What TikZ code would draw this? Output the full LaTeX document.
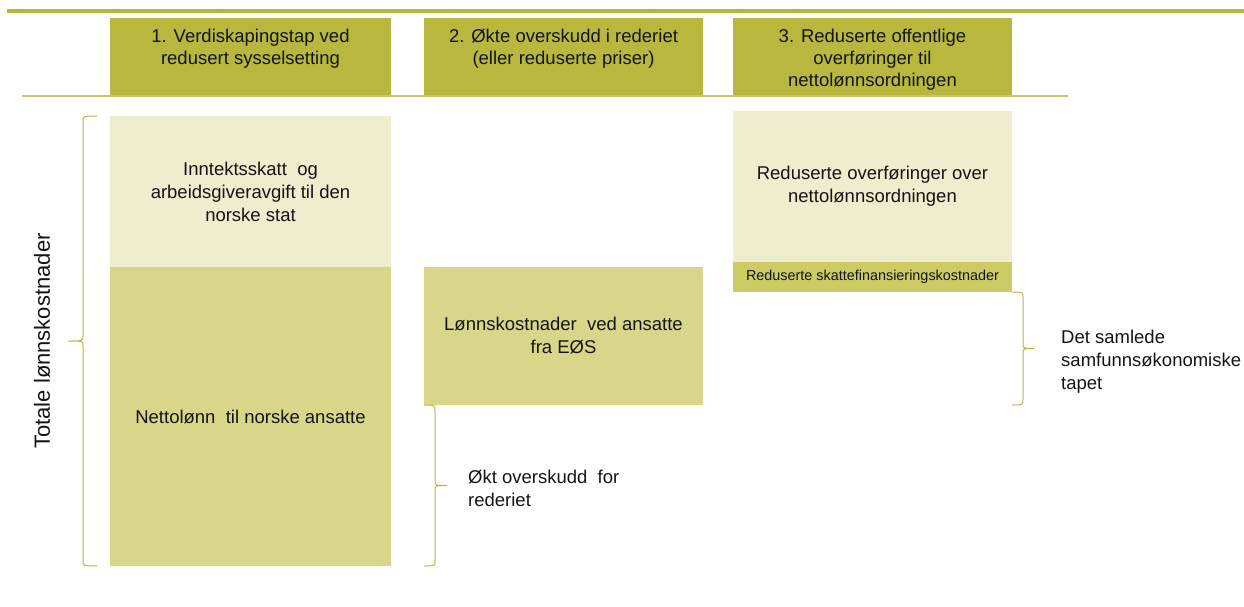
\documentclass[tikz,border=0pt]{standalone}
\usepackage{fontspec}
\setmainfont{Liberation Sans}
\definecolor{olivehead}{RGB}{185,183,62}
\definecolor{olivedark}{RGB}{216,214,137}
\definecolor{olivelight}{RGB}{238,237,205}
\definecolor{olivestrip}{RGB}{205,203,100}
\definecolor{oliveline}{RGB}{200,198,110}
\definecolor{txt}{RGB}{20,20,20}
\begin{document}
\begin{tikzpicture}[x=1pt,y=-1pt,
  box/.style={draw=none,inner sep=0pt,outer sep=0pt,rectangle},
  headbox/.style={box,fill=olivehead,minimum height=77pt},
  headtext/.style={inner sep=0pt,anchor=north,align=center,text=txt,font=\fontsize{18.5}{22.3}\selectfont},
  bodytext/.style={inner sep=0pt,align=center,text=txt,font=\fontsize{18.5}{23}\selectfont},
  sidetext/.style={inner sep=0pt,anchor=west,align=left,text=txt,font=\fontsize{18.5}{23}\selectfont},
  bracestyle/.style={draw=olivehead,line width=1pt}]
\useasboundingbox (0,0) rectangle (1244,607);
% top bar
\fill[olivehead] (7,9) rectangle (1244,13.2);
% header boxes
\node[headbox,minimum width=281pt] (h1) at (250.5,56.5) {};
\node[headbox,minimum width=279pt] (h2) at (563.5,56.5) {};
\node[headbox,minimum width=279pt] (h3) at (872.5,56.5) {};
\node[headtext] (h1t) at (250.5,28.5) {1. Verdiskapingstap ved\\redusert sysselsetting};
\node[headtext] (h2t) at (563.5,28.5) {2. Økte overskudd i rederiet\\(eller reduserte priser)};
\node[headtext] (h3t) at (872.5,28.5) {3. Reduserte offentlige\\overføringer til\\nettolønnsordningen};
% separator line
\coordinate (sepL) at (22,96.5);
\coordinate (sepR) at (1068,96.5);
\draw[oliveline,line width=2pt] (sepL) -- (sepR);
% column 1
\node[box,fill=olivelight,minimum width=281pt,minimum height=151pt] (b1top) at (250.5,191.5) {};
\node[box,fill=olivedark,minimum width=281pt,minimum height=299pt] (b1bot) at (250.5,416.5) {};
\node[bodytext] (b1topt) at (b1top.center) {Inntektsskatt\ \ og\\arbeidsgiveravgift til den\\norske stat};
\node[bodytext] (b1bott) at (b1bot.center) {Nettolønn\ \ til norske ansatte};
% column 2
\node[box,fill=olivedark,minimum width=279pt,minimum height=138pt] (b2) at (563.5,336) {};
\node[bodytext] (b2t) at (b2.center) {Lønnskostnader\ \ ved ansatte\\fra EØS};
% column 3
\node[box,fill=olivelight,minimum width=279pt,minimum height=151pt] (b3top) at (872.5,186.5) {};
\node[box,fill=olivestrip,minimum width=279pt,minimum height=30pt] (b3strip) at (872.5,277) {};
\node[bodytext] (b3topt) at (b3top.center) {Reduserte overføringer over\\nettolønnsordningen};
\node[bodytext,font=\fontsize{14.4}{17}\selectfont] (b3stript) at (b3strip.center) {Reduserte skattefinansieringskostnader};
% left brace
\draw[bracestyle] (97,116) .. controls (83,116) and (83,116) .. (83,122)
  -- (83,336) .. controls (83,341) and (83,341) .. (68,341)
  .. controls (83,341) and (83,341) .. (83,346)
  -- (83,560) .. controls (83,566) and (83,566) .. (97,566);
\node[inner sep=0pt,rotate=90,text=txt,font=\fontsize{22}{26}\selectfont] (tot) at (42,341) {Totale lønnskostnader};
% middle brace
\draw[bracestyle] (424,405) .. controls (435,405) and (435,405) .. (435,411)
  -- (435,480.5) .. controls (435,485.5) and (435,485.5) .. (447,485.5)
  .. controls (435,485.5) and (435,485.5) .. (435,490.5)
  -- (435,560) .. controls (435,566) and (435,566) .. (424,566);
\node[sidetext] (okt) at (468,488) {Økt overskudd\ \ for\\rederiet};
% right brace
\draw[bracestyle] (1012,292) .. controls (1023,292) and (1023,292) .. (1023,298)
  -- (1023,343.5) .. controls (1023,348.5) and (1023,348.5) .. (1034,348.5)
  .. controls (1023,348.5) and (1023,348.5) .. (1023,353.5)
  -- (1023,399) .. controls (1023,405) and (1023,405) .. (1012,405);
\node[sidetext] (tap) at (1061,362) {Det samlede\\samfunnsøkonomiske\\tapet};
\end{tikzpicture}
\end{document}
